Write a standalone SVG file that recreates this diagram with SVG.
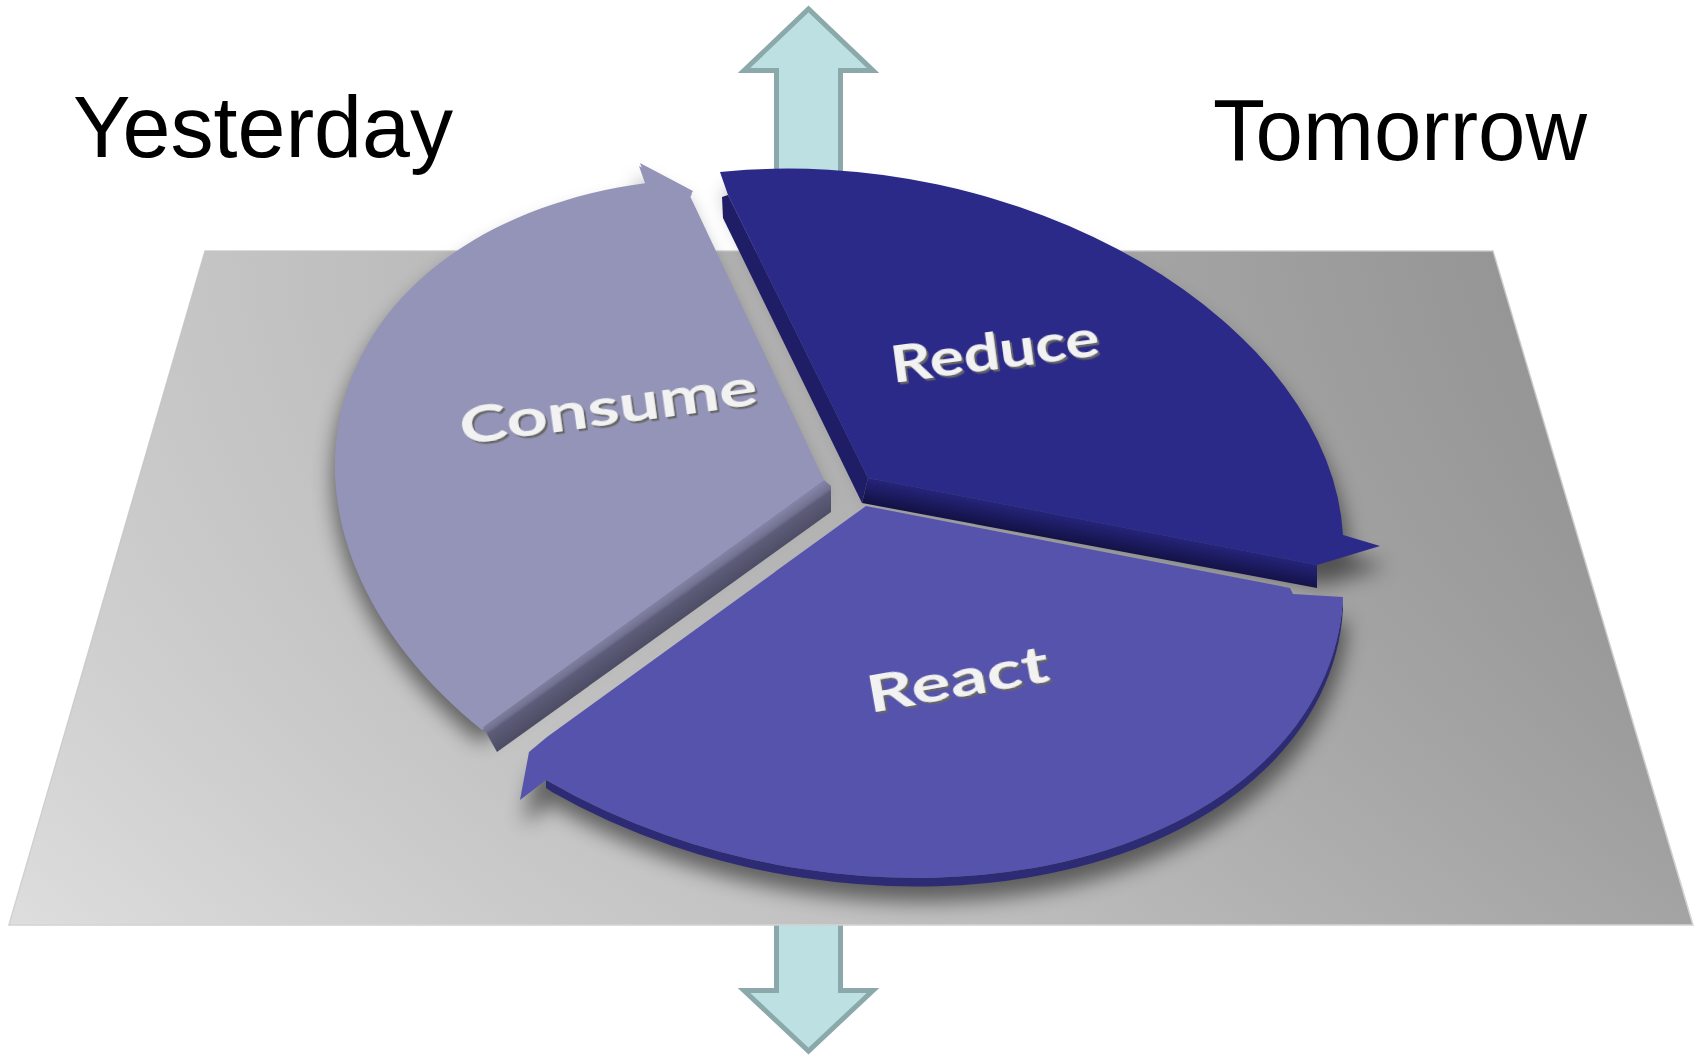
<svg xmlns="http://www.w3.org/2000/svg" width="1696" height="1056" viewBox="0 0 1696 1056">
<defs>
<style>
.big{font-family:"Liberation Sans",Arial,sans-serif;font-size:88px;fill:#000}
.lbl{font-family:Lato,"Open Sans",sans-serif;font-weight:700;font-size:64px;fill:#f2f2f2;filter:url(#ts)}
.arr{fill:#bde0e3;stroke:#8ba9ab;stroke-width:5;stroke-linejoin:miter}
</style>
<linearGradient id="plane" gradientUnits="userSpaceOnUse" x1="9" y1="0" x2="1693" y2="0">
<stop offset="0" stop-color="#d9d9d9"/><stop offset="0.3" stop-color="#c4c4c4"/><stop offset="0.62" stop-color="#b2b2b2"/><stop offset="1" stop-color="#979797"/>
</linearGradient>
<linearGradient id="planeV" x1="0" y1="0" x2="0" y2="1">
<stop offset="0" stop-color="#000" stop-opacity="0.06"/><stop offset="1" stop-color="#fff" stop-opacity="0.12"/>
</linearGradient>
<linearGradient id="cside" gradientUnits="userSpaceOnUse" x1="653" y1="603" x2="670" y2="627">
<stop offset="0" stop-color="#8383a8"/><stop offset="0.3" stop-color="#71718f"/><stop offset="0.4" stop-color="#5d5d7a"/><stop offset="1" stop-color="#4d4d66"/>
</linearGradient>
<linearGradient id="rside" gradientUnits="userSpaceOnUse" x1="1090" y1="521" x2="1085" y2="547">
<stop offset="0" stop-color="#25247a"/><stop offset="0.45" stop-color="#1c1b60"/><stop offset="1" stop-color="#111040"/>
</linearGradient>
<filter id="shadow" x="-20%" y="-20%" width="140%" height="140%">
<feColorMatrix type="matrix" values="0 0 0 0 0  0 0 0 0 0  0 0 0 0 0  0 0 0 1 0"/>
<feGaussianBlur stdDeviation="10"/>
</filter>
<filter id="ts" x="-10%" y="-30%" width="120%" height="160%"><feDropShadow dx="2" dy="3" stdDeviation="0.6" flood-color="#666" flood-opacity="1"/></filter>
</defs>
<rect width="1696" height="1056" fill="#fff"/>
<g id="arrow-down"><path class="arr" d="M776.5,900 L776.5,990.5 L744,990.5 L808.5,1051 L873,990.5 L840.5,990.5 L840.5,900 Z"/></g>
<g id="plane-group">
<polygon points="205,251 1493,251 1693,925 9,925" fill="url(#plane)" stroke="#cfcfcf" stroke-width="1.5"/>
<polygon points="205,251 1493,251 1693,925 9,925" fill="url(#planeV)"/>
</g>
<g id="arrow-up"><path class="arr" d="M776.5,190 L776.5,70.5 L744,70.5 L808.5,9 L873,70.5 L840.5,70.5 L840.5,190 Z"/></g>
<g id="pie-shadow" filter="url(#shadow)" opacity="0.5">
<use href="#consume-top" transform="translate(-3,16)"/>
<use href="#reduce-top" transform="translate(6,20)"/>
<use href="#react-top" transform="translate(4,24)"/>
</g>
<g id="consume">
<use href="#consume-top" transform="translate(-1,3)" fill="#4f4f68"/>
<path d="M483,727 L824,480 L831,486 L831,512 L497,752 Z" fill="url(#cside)"/>
<path id="consume-top" fill="#9494b9" d="M640,163 L693,191 L690,196 L824,480 L483,727 A471.2 331.8 14.16 0 1 647,183 Z"/>
<text class="lbl" transform="translate(462,445) rotate(-7.8) scale(1,0.8)" textLength="300" lengthAdjust="spacingAndGlyphs">Consume</text>
</g>
<g id="reduce">
<path d="M728,195 L868,478 L862,503 L723,218 L722,197 Z" fill="#1e1d66"/>
<path d="M868,478 L1317,565 L1317,588 L862,503 Z" fill="url(#rside)"/>
<path id="reduce-top" fill="#2b2a89" d="M720,172 A486 321 10.8 0 1 1343,535 L1380,546 L1317,565 L868,478 L728,195 Z"/>
<text class="lbl" transform="translate(893,383) rotate(-7.6) scale(1,0.8)" textLength="210" lengthAdjust="spacingAndGlyphs">Reduce</text>
</g>
<g id="react">
<path fill="#2c2b74" d="M1343,597 A510 337 10.8 0 1 546,780 L546,788 L552,792 A510 337 10.8 0 0 1343,609 Z"/>
<path id="react-top" fill="#5553ac" d="M866,506 L1290,588 L1293,594 L1343,597 A510 337 10.8 0 1 546,780 L520,800 L529,752 L547,737 Z"/>
<text class="lbl" transform="translate(870,713) rotate(-10) scale(1,0.8)" textLength="184" lengthAdjust="spacingAndGlyphs">React</text>
</g>
<g id="label-yesterday"><text class="big" x="73" y="157" textLength="380" lengthAdjust="spacingAndGlyphs">Yesterday</text></g>
<g id="label-tomorrow"><text class="big" x="1213" y="160" textLength="374" lengthAdjust="spacingAndGlyphs">Tomorrow</text></g>
</svg>
